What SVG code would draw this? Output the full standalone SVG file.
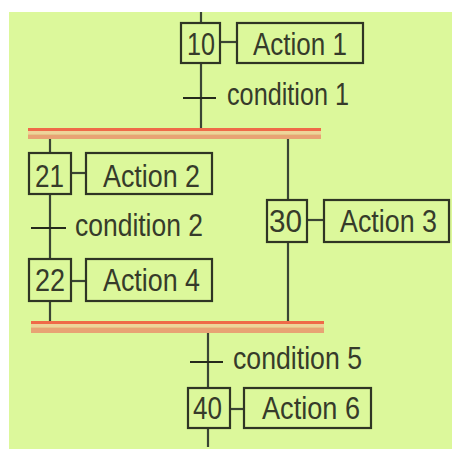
<svg xmlns="http://www.w3.org/2000/svg" width="452" height="451" viewBox="0 0 452 451">
  <style>
    .step { fill: none; stroke: #2f3524; stroke-width: 2.2; }
    .act { fill: none; stroke: #2f3524; stroke-width: 2.2; }
    .wire { fill: none; stroke: #3a4534; stroke-width: 2.2; }
    .tick { fill: none; stroke: #252a1c; stroke-width: 2.2; }
    .lbl { font-family: "Liberation Sans", Arial, sans-serif; font-size: 31px; fill: #363b2a; }
    .num { text-anchor: start; }
    .bar-red { fill: #ef6a48; }
    .bar-mid { fill: #eed49a; }
    .bar-org { fill: #e8a374; }
  </style>

  <!-- background -->
  <rect x="0" y="0" width="452" height="451" fill="#ffffff"/>
  <rect x="9" y="12" width="443" height="437" fill="#dcf89b"/>

  <!-- connectors: links, transitions and simultaneous-divergence bars -->
  <g id="connectors">
    <!-- main line into and out of step 10 -->
    <line class="wire" x1="201" y1="12" x2="201" y2="23"/>
    <line class="wire" x1="201" y1="63" x2="201" y2="128"/>
    <line class="wire" x1="220" y1="42" x2="237" y2="42"/>
    <line class="tick" x1="183" y1="98" x2="216" y2="98"/>

    <!-- left branch -->
    <line class="wire" x1="50" y1="139" x2="50" y2="153"/>
    <line class="wire" x1="50" y1="194" x2="50" y2="259"/>
    <line class="wire" x1="50" y1="301" x2="50" y2="321"/>
    <line class="wire" x1="71" y1="173" x2="86" y2="173"/>
    <line class="wire" x1="71" y1="281" x2="86" y2="281"/>
    <line class="tick" x1="31" y1="228" x2="66" y2="228"/>

    <!-- right branch -->
    <line class="wire" x1="288" y1="139" x2="288" y2="200"/>
    <line class="wire" x1="288" y1="242" x2="288" y2="321"/>
    <line class="wire" x1="307" y1="220" x2="324" y2="220"/>

    <!-- after convergence -->
    <line class="wire" x1="208" y1="333" x2="208" y2="388"/>
    <line class="wire" x1="208" y1="428" x2="208" y2="447"/>
    <line class="wire" x1="230" y1="409" x2="244" y2="409"/>
    <line class="tick" x1="190" y1="362" x2="223" y2="362"/>

    <!-- divergence bar -->
    <g id="bar-top">
      <rect class="bar-red" x="28" y="128" width="293" height="3"/>
      <rect class="bar-mid" x="28" y="131" width="293" height="3.5"/>
      <rect class="bar-org" x="28" y="134.5" width="293" height="4.5"/>
    </g>
    <!-- convergence bar -->
    <g id="bar-bottom">
      <rect class="bar-red" x="31" y="321" width="293" height="3"/>
      <rect class="bar-mid" x="31" y="324" width="293" height="3.5"/>
      <rect class="bar-org" x="31" y="327.5" width="293" height="5.5"/>
    </g>
  </g>

  <!-- transition labels -->
  <g id="cond1"><text class="lbl" x="227" y="105" textLength="122" lengthAdjust="spacingAndGlyphs">condition 1</text></g>
  <g id="cond2"><text class="lbl" x="75" y="236" textLength="128" lengthAdjust="spacingAndGlyphs">condition 2</text></g>
  <g id="cond5"><text class="lbl" x="233" y="369" textLength="129" lengthAdjust="spacingAndGlyphs">condition 5</text></g>

  <!-- steps -->
  <g id="step10">
    <rect class="step" x="181" y="23" width="39" height="40"/>
    <text class="lbl" x="187" y="55" textLength="28" lengthAdjust="spacingAndGlyphs">10</text>
  </g>
  <g id="step21">
    <rect class="step" x="29" y="153" width="42" height="41"/>
    <text class="lbl" x="35" y="187" textLength="29" lengthAdjust="spacingAndGlyphs">21</text>
  </g>
  <g id="step22">
    <rect class="step" x="29" y="259" width="42" height="42"/>
    <text class="lbl" x="35" y="291" textLength="30" lengthAdjust="spacingAndGlyphs">22</text>
  </g>
  <g id="step30">
    <rect class="step" x="267" y="200" width="40" height="42"/>
    <text class="lbl" x="269" y="232" textLength="33" lengthAdjust="spacingAndGlyphs">30</text>
  </g>
  <g id="step40">
    <rect class="step" x="188" y="388" width="42" height="40"/>
    <text class="lbl" x="193" y="419" textLength="29" lengthAdjust="spacingAndGlyphs">40</text>
  </g>

  <!-- actions -->
  <g id="action1">
    <rect class="act" x="237" y="23" width="126" height="40"/>
    <text class="lbl" x="253" y="55" textLength="94" lengthAdjust="spacingAndGlyphs">Action 1</text>
  </g>
  <g id="action2">
    <rect class="act" x="86" y="153" width="126" height="41"/>
    <text class="lbl" x="103" y="187" textLength="97" lengthAdjust="spacingAndGlyphs">Action 2</text>
  </g>
  <g id="action4">
    <rect class="act" x="86" y="259" width="126" height="42"/>
    <text class="lbl" x="103" y="291" textLength="97" lengthAdjust="spacingAndGlyphs">Action 4</text>
  </g>
  <g id="action3">
    <rect class="act" x="324" y="200" width="125" height="42"/>
    <text class="lbl" x="340" y="232" textLength="97" lengthAdjust="spacingAndGlyphs">Action 3</text>
  </g>
  <g id="action6">
    <rect class="act" x="244" y="388" width="127" height="40"/>
    <text class="lbl" x="262" y="419" textLength="98" lengthAdjust="spacingAndGlyphs">Action 6</text>
  </g>
</svg>
